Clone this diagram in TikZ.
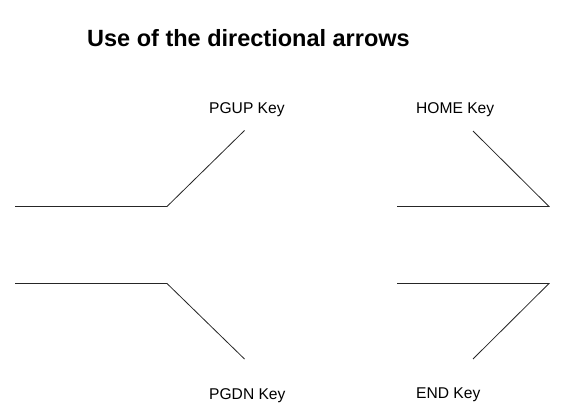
\documentclass[tikz,border=0pt]{standalone}
\usepackage{fontspec}
\setmainfont{Liberation Sans}
\begin{document}
\begin{tikzpicture}[x=1pt,y=-1pt,
  keylabel/.style={anchor=base west,inner sep=0pt,font=\fontsize{15.6}{18}\selectfont},
  titlelabel/.style={anchor=base west,inner sep=0pt,font=\fontsize{23.5}{28}\selectfont\bfseries},
  keyline/.style={draw=black!85,line width=0.8pt,line join=miter}]
\useasboundingbox (0,0) rectangle (574,415);
\node[titlelabel] (title) at (87,46.5) {Use of the directional arrows};
\node[keylabel] (pgup) at (209,113.5) {PGUP Key};
\node[keylabel] (home) at (416,113.5) {HOME Key};
\node[keylabel] (pgdn) at (209,399) {PGDN Key};
\node[keylabel] (endk) at (416,398.5) {END Key};
% top left
\coordinate (a1) at (15,206.5);
\coordinate (a2) at (167,206.5);
\coordinate (a3) at (244.5,130.5);
% top right
\coordinate (b1) at (397,206.5);
\coordinate (b2) at (549,206.5);
\coordinate (b3) at (473,131);
% bottom left
\coordinate (c1) at (15,283.5);
\coordinate (c2) at (167,283.5);
\coordinate (c3) at (244.5,359);
% bottom right
\coordinate (d1) at (397,283.5);
\coordinate (d2) at (549,283.5);
\coordinate (d3) at (473,359);
\draw[keyline] (a1) -- (a2) -- (a3);
\draw[keyline] (b1) -- (b2) -- (b3);
\draw[keyline] (c1) -- (c2) -- (c3);
\draw[keyline] (d1) -- (d2) -- (d3);
\end{tikzpicture}
\end{document}
